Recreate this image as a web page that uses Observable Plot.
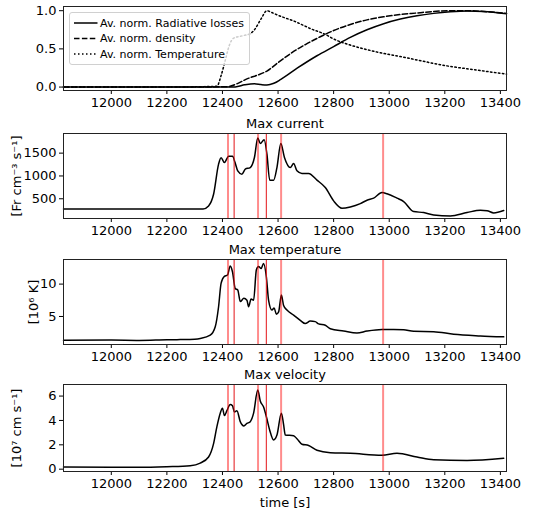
<!DOCTYPE html>
<html><head><meta charset="utf-8">
<script src="https://cdn.jsdelivr.net/npm/d3@7"></script>
<script src="https://cdn.jsdelivr.net/npm/@observablehq/plot@0.6"></script>
<style>
body{margin:0;background:#fff;font-family:"DejaVu Sans",sans-serif}
#chart{position:relative;width:553px;height:511px;overflow:hidden}
#legend{position:absolute;left:69px;top:12px;width:179px;height:51px;border:1px solid #d0d0d0;border-radius:3px;background:rgba(255,255,255,0.8);z-index:5}
</style></head>
<body><div id="chart"></div>
<script>
// ---------- data ----------
const xTicks = [12000, 12200, 12400, 12600, 12800, 13000, 13200, 13400];
const legendLabels = ["Av. norm. Radiative losses", "Av. norm. density", "Av. norm. Temperature"];
const panelTitles = ["Max current", "Max temperature", "Max velocity"];
const yLabels = ["[Fr cm\u207B\u00B3 s\u207B\u00B9]", "[10\u2076 K]", "[10\u2077 cm s\u207B\u00B9]"];

// event markers (s)
const eventsLight = [12420, 12528, 12611, 12978];
const eventsDark = [12442, 12558];

// Panel 1: averaged normalised quantities
const radT = [11828, 12000, 12200, 12400, 12446, 12480, 12515, 12540, 12560, 12585, 12610, 12670, 12740, 12800, 12860, 12920, 12980, 13040, 13100, 13160, 13220, 13280, 13340, 13422];
const radV = [0, 0, 0, 0, 0.002, 0.03, 0.045, 0.032, 0.027, 0.05, 0.10, 0.25, 0.41, 0.53, 0.65, 0.75, 0.83, 0.89, 0.935, 0.965, 0.985, 0.995, 0.99, 0.96];
const denT = [11828, 12000, 12200, 12400, 12420, 12450, 12490, 12525, 12560, 12600, 12650, 12700, 12750, 12800, 12860, 12920, 12980, 13040, 13100, 13160, 13220, 13280, 13340, 13422];
const denV = [0, 0, 0, 0.003, 0.006, 0.04, 0.11, 0.155, 0.21, 0.32, 0.45, 0.56, 0.655, 0.74, 0.82, 0.88, 0.92, 0.95, 0.97, 0.99, 1.0, 1.0, 0.99, 0.965];
const tavT = [11828, 12000, 12200, 12380, 12395, 12410, 12425, 12440, 12470, 12500, 12515, 12540, 12560, 12575, 12600, 12660, 12720, 12770, 12800, 12860, 12920, 12980, 13040, 13100, 13160, 13220, 13280, 13340, 13422];
const tavV = [0, 0, 0, 0.01, 0.15, 0.35, 0.55, 0.64, 0.67, 0.70, 0.75, 0.90, 1.0, 0.98, 0.94, 0.86, 0.76, 0.69, 0.63, 0.55, 0.49, 0.44, 0.40, 0.355, 0.31, 0.27, 0.24, 0.21, 0.17];

// Panel 2: max current
const curT = [11828, 12000, 12200, 12330, 12350, 12368, 12386, 12395, 12407, 12422, 12436, 12445, 12455, 12470, 12482, 12500, 12515, 12527, 12536, 12550, 12560, 12570, 12584, 12596, 12610, 12623, 12644, 12656, 12668, 12686, 12710, 12740, 12770, 12800, 12830, 12860, 12896, 12920, 12944, 12974, 12992, 13028, 13052, 13088, 13124, 13160, 13220, 13280, 13328, 13352, 13376, 13412];
const curV = [275, 275, 275, 277, 344, 600, 1259, 1400, 1294, 1430, 1430, 1300, 1112, 1040, 1149, 1184, 1404, 1829, 1710, 1792, 1478, 908, 908, 1184, 1710, 1404, 1184, 1272, 1112, 1053, 1053, 908, 746, 454, 294, 322, 395, 469, 513, 636, 610, 513, 439, 220, 198, 147, 125, 198, 250, 240, 191, 242];

// Panel 3: max temperature (10^6 K)
const tmxT = [11828, 12000, 12100, 12200, 12248, 12300, 12320, 12356, 12374, 12386, 12395, 12407, 12418, 12428, 12436, 12446, 12455, 12464, 12477, 12488, 12494, 12503, 12512, 12522, 12530, 12539, 12548, 12558, 12566, 12578, 12586, 12594, 12602, 12612, 12620, 12632, 12656, 12680, 12698, 12716, 12734, 12746, 12770, 12788, 12836, 12884, 12920, 12974, 13016, 13052, 13088, 13160, 13232, 13328, 13412];
const tmxV = [1.33, 1.35, 1.3, 1.4, 1.43, 1.5, 1.6, 2.1, 3.4, 6.5, 10.1, 11.2, 11.4, 12.8, 11.9, 9.3, 9.1, 7.3, 7.8, 7.5, 6.5, 7.7, 7.5, 12.2, 12.7, 12.4, 13.2, 11.1, 7.5, 6.0, 6.3, 5.35, 5.7, 8.3, 6.7, 6.0, 5.2, 4.4, 3.9, 4.3, 4.2, 3.85, 3.65, 3.1, 2.75, 2.45, 2.75, 3.0, 3.0, 2.95, 2.7, 2.65, 2.26, 2.0, 1.85];

// Panel 4: max velocity (10^7 cm/s)
const velT = [11828, 12000, 12100, 12200, 12284, 12320, 12350, 12368, 12380, 12392, 12400, 12407, 12416, 12428, 12436, 12443, 12452, 12464, 12477, 12488, 12500, 12512, 12527, 12536, 12548, 12558, 12570, 12584, 12596, 12612, 12620, 12626, 12656, 12668, 12686, 12710, 12740, 12788, 12860, 12974, 13028, 13100, 13160, 13280, 13412];
const velV = [0.17, 0.15, 0.15, 0.2, 0.28, 0.5, 1.0, 2.1, 3.5, 4.6, 5.0, 4.4, 4.8, 5.3, 5.2, 4.7, 4.8, 3.9, 3.55, 3.75, 3.9, 4.6, 6.5, 5.6, 5.1, 4.3, 3.2, 2.4, 2.8, 4.6, 3.65, 2.8, 2.75, 2.5, 2.05, 1.95, 1.55, 1.35, 1.3, 1.15, 1.3, 1.0, 0.78, 0.72, 0.9];

// ---------- drawing ----------
const W = 553, ML = 63, MR = 47;
const xDomain = [11828, 13422];
const chart = document.getElementById("chart");
const toRows = (T, V) => T.map((t, i) => ({t, v: V[i]}));

function lineMark(T, V, extra = {}) {
  return Plot.line(toRows(T, V), {x: "t", y: "v", stroke: "black", strokeWidth: 1.5, curve: "monotone-x", ...extra});
}
function eventMarks() {
  return [
    Plot.ruleX(eventsLight, {stroke: "red", strokeOpacity: 0.45, strokeWidth: 2}),
    Plot.ruleX(eventsDark, {stroke: "#e3191c", strokeOpacity: 0.85, strokeWidth: 1.2})
  ];
}

function panel({top, height, marginTop, marginBottom, yDomain, yTicks, yFormat, marks, title, ylabel, ylabelDx, xlabel}) {
  const m = [
    Plot.axisX({ticks: xTicks, tickSize: 4, tickPadding: 3, tickFormat: d => String(d), label: null, fontSize: 13}),
    Plot.axisY({ticks: yTicks, tickSize: 4, tickPadding: 3, tickFormat: yFormat, label: null, fontSize: 13}),
    ...marks,
    Plot.frame({stroke: "#222", strokeWidth: 1})
  ];
  if (title) m.push(Plot.text([title], {text: d => d, frameAnchor: "top", lineAnchor: "middle", textAnchor: "middle", dy: -9.5, fontSize: 13}));
  if (ylabel) m.push(Plot.text([ylabel], {text: d => d, frameAnchor: "left", lineAnchor: "middle", textAnchor: "middle", rotate: -90, dx: ylabelDx, fontSize: 13}));
  if (xlabel) m.push(Plot.text([xlabel], {text: d => d, frameAnchor: "bottom", lineAnchor: "middle", textAnchor: "middle", dy: 31, fontSize: 13}));
  const p = Plot.plot({
    width: W, height, marginLeft: ML, marginRight: MR, marginTop, marginBottom,
    style: {fontFamily: "'DejaVu Sans', sans-serif", fontSize: "13px", background: "transparent", color: "black", overflow: "visible"},
    x: {domain: xDomain},
    y: {domain: yDomain},
    marks: m
  });
  p.style.position = "absolute";
  p.style.left = "0px";
  p.style.top = top + "px";
  chart.appendChild(p);
}

panel({top: 0, height: 120, marginTop: 6, marginBottom: 30, yDomain: [-0.045, 1.055], yTicks: [0, 0.5, 1], yFormat: d3.format(".1f"),
  marks: [
    lineMark(radT, radV),
    lineMark(denT, denV, {strokeDasharray: "5.5,2.4"}),
    lineMark(tavT, tavV, {strokeDasharray: "1.5,2.5"})
  ]});

panel({top: 112, height: 136, marginTop: 21, marginBottom: 30, yDomain: [68, 1930], yTicks: [500, 1000, 1500], yFormat: d => String(d),
  marks: [lineMark(curT, curV), ...eventMarks()], title: panelTitles[0], ylabel: yLabels[0], ylabelDx: -47});

panel({top: 238, height: 136, marginTop: 21, marginBottom: 30, yDomain: [0.67, 13.8], yTicks: [5, 10], yFormat: d => String(d),
  marks: [lineMark(tmxT, tmxV), ...eventMarks()], title: panelTitles[1], ylabel: yLabels[1], ylabelDx: -30});

panel({top: 363, height: 148, marginTop: 21, marginBottom: 40, yDomain: [-0.19, 6.95], yTicks: [0, 2, 4, 6], yFormat: d => String(d),
  marks: [lineMark(velT, velV), ...eventMarks()], title: panelTitles[2], ylabel: yLabels[2], ylabelDx: -47, xlabel: "time [s]"});

// legend for panel 1
const lg = document.createElement("div");
lg.id = "legend";
const dashes = [null, "5.5,2.4", "1.5,2.5"];
let svg = `<svg width="179" height="51" style="position:absolute;left:0;top:0">`;
legendLabels.forEach((lab, i) => {
  const y = 10 + i * 15.5;
  svg += `<line x1="4" x2="27.5" y1="${y}" y2="${y}" stroke="black" stroke-width="1.5" ${dashes[i] ? `stroke-dasharray="${dashes[i]}"` : ""}/>`;
  svg += `<text x="30" y="${y}" dy="0.35em" font-family="DejaVu Sans, sans-serif" font-size="11" fill="black">${lab}</text>`;
});
svg += `</svg>`;
lg.innerHTML = svg;
chart.appendChild(lg);
</script>
</body></html>
